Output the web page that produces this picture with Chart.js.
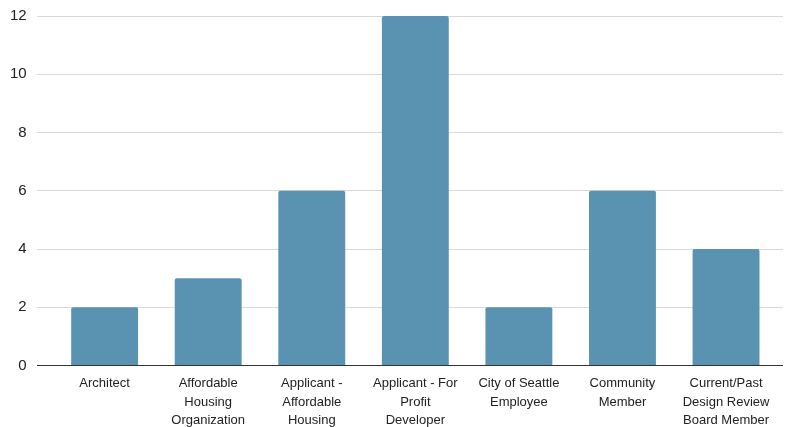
<!DOCTYPE html>
<html lang="en">
<head>
  <meta charset="UTF-8" />
  <title>Respondents by role</title>
  <script src="https://cdn.jsdelivr.net/npm/chart.js"></script>
  <style>
    html, body { margin: 0; padding: 0; background: #ffffff; }
    #wrap { width: 788px; height: 427px; }
  </style>
</head>
<body>
  <div id="wrap"><canvas id="roleChart"></canvas></div>

  <script>
    // categories (each one split into its printed lines)
    const roles = [
      ['Architect'],
      ['Affordable', 'Housing', 'Organization'],
      ['Applicant -', 'Affordable', 'Housing'],
      ['Applicant - For', 'Profit', 'Developer'],
      ['City of Seattle', 'Employee'],
      ['Community', 'Member'],
      ['Current/Past', 'Design Review', 'Board Member']
    ];
    const counts = [2, 3, 6, 12, 2, 6, 4];
    const yTicks = [0, 2, 4, 6, 8, 10, 12];

    const ctx = document.getElementById('roleChart').getContext('2d');

    new Chart(ctx, {
      type: 'bar',
      data: {
        datasets: [{
          data: counts.map((v, i) => ({ x: i, y: v })),
          backgroundColor: '#5a93b1',
          borderRadius: { topLeft: 2, topRight: 2 },
          borderSkipped: 'bottom',
          barPercentage: 0.646,
          categoryPercentage: 1
        }]
      },
      options: {
        responsive: true,
        maintainAspectRatio: false,
        animation: false,
        layout: { padding: { top: 0, right: 5, left: 0, bottom: -4 } },
        plugins: {
          legend: { display: false },
          tooltip: { enabled: false }
        },
        scales: {
          x: {
            type: 'linear',
            offset: false,
            min: -0.656,
            max: 6.55,
            grid: { display: false },
            border: { display: false },
            afterBuildTicks: axis => { axis.ticks = roles.map((r, i) => ({ value: i })); },
            ticks: {
              autoSkip: false,
              maxRotation: 0,
              padding: 1,
              color: '#222222',
              font: { family: 'Liberation Sans, Arial, sans-serif', size: 13, lineHeight: 1.42 },
              callback: v => roles[v]
            }
          },
          y: {
            min: 0,
            max: 12,
            afterBuildTicks: axis => { axis.ticks = yTicks.map(v => ({ value: v })); },
            grid: {
              drawTicks: false,
              color: c => c.tick && c.tick.value === 0 ? '#333333' : '#d9d9d9',
              lineWidth: 1
            },
            border: { display: false },
            ticks: {
              padding: 10,
              color: '#222222',
              font: { family: 'Liberation Sans, Arial, sans-serif', size: 15, lineHeight: 0.8 }
            }
          }
        }
      }
    });
  </script>
</body>
</html>
